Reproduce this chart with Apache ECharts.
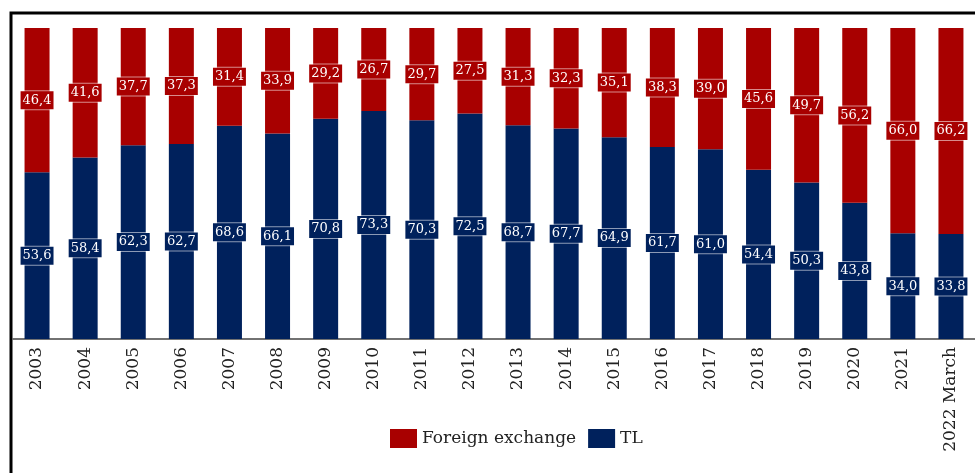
<!DOCTYPE html>
<html>
<head>
<meta charset="utf-8">
<script src="https://cdn.jsdelivr.net/npm/echarts@6/dist/echarts.min.js"></script>
<style>
    html,body{margin:0;padding:0;background:#fff;}
    #main{width:975px;height:473px;}
</style>
</head>
<body>
<div id="main"></div>
<script>
    /*数据*/
    var years = ['2003','2004','2005','2006','2007','2008','2009','2010','2011','2012',
        '2013','2014','2015','2016','2017','2018','2019','2020','2021','2022 March'];
    var fxShare = [46.4,41.6,37.7,37.3,31.4,33.9,29.2,26.7,29.7,27.5,31.3,32.3,35.1,38.3,39.0,45.6,49.7,56.2,66.0,66.2];
    var tlShare = [53.6,58.4,62.3,62.7,68.6,66.1,70.8,73.3,70.3,72.5,68.7,67.7,64.9,61.7,61.0,54.4,50.3,43.8,34.0,33.8];

    var red = '#a80000';
    var navy = '#00215c';
    var serif = '"DejaVu Serif", "Liberation Serif", serif';

    function barLabel(color){
        return {
            show: true,
            position: 'inside',
            color: '#fff',
            fontFamily: serif,
            fontSize: 13,
            backgroundColor: color,
            borderColor: 'rgba(255,255,255,0.55)',
            borderWidth: 1,
            padding: [3, 2, 2, 2],
            formatter: function(p){
                return p.value.toFixed(1).replace('.', ',');
            }
        };
    }

    var chart = echarts.init(document.getElementById('main'));
    var option = {
        animation: false,
        graphic: [{
            type: 'rect',
            shape: {x: 11, y: 13, width: 1000, height: 500},
            style: {fill: 'none', stroke: '#000', lineWidth: 3},
            silent: true
        }],
        legend: {
            top: 424,
            left: 385,
            icon: 'rect',
            itemWidth: 27,
            itemHeight: 19,
            itemGap: 12,
            textStyle: {fontFamily: serif, fontSize: 17, color: '#222'},
            data: ['Foreign exchange', 'TL']
        },
        grid: {
            left: 13,
            right: -2,
            top: 28,
            bottom: 134,
            containLabel: false
        },
        xAxis: {
            type: 'category',
            data: years,
            axisLine: {lineStyle: {color: '#444', width: 1.5}},
            axisTick: {show: false},
            axisLabel: {
                rotate: 90,
                margin: 8,
                interval: 0,
                fontFamily: serif,
                fontSize: 17,
                color: '#222'
            }
        },
        yAxis: {
            type: 'value',
            min: 0,
            max: 100,
            show: false,
            splitLine: {show: false}
        },
        series: [{
            name: 'TL',
            type: 'bar',
            stack: 'share',
            barWidth: 25,
            data: tlShare,
            itemStyle: {color: navy},
            label: barLabel(navy)
        },{
            name: 'Foreign exchange',
            type: 'bar',
            stack: 'share',
            barWidth: 25,
            data: fxShare,
            itemStyle: {color: red},
            label: barLabel(red)
        }]
    };
    chart.setOption(option);
</script>
</body>
</html>
